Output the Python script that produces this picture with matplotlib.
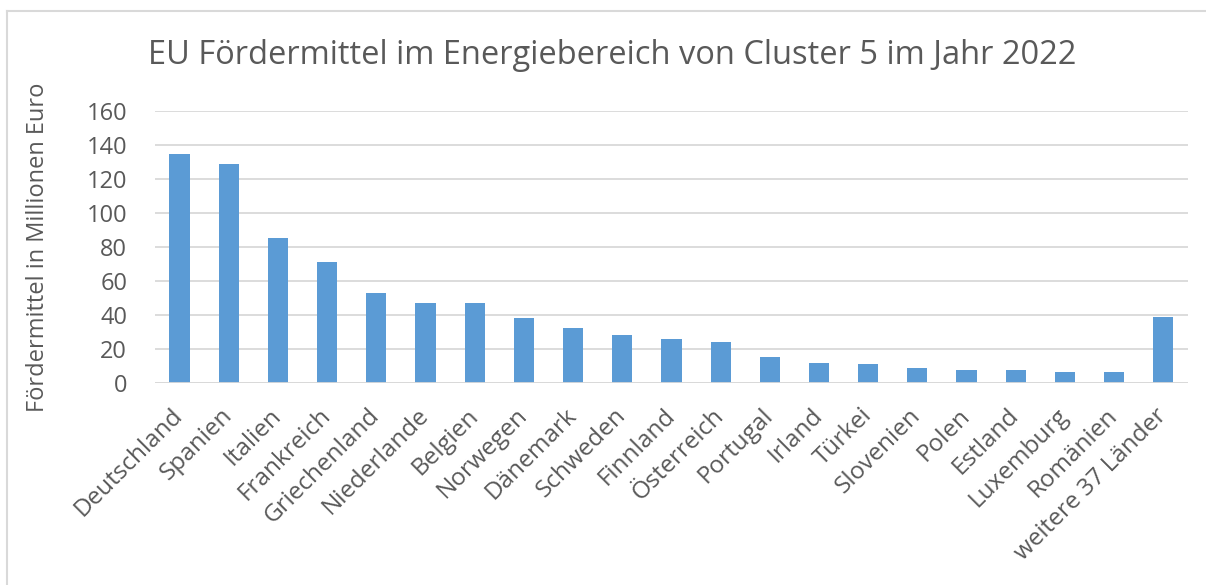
import numpy as np
import matplotlib.pyplot as plt
from matplotlib.lines import Line2D

plt.rcParams['font.family'] = ['Open Sans', 'DejaVu Sans']

laender = ['Deutschland', 'Spanien', 'Italien', 'Frankreich', 'Griechenland',
           'Niederlande', 'Belgien', 'Norwegen', 'Dänemark', 'Schweden',
           'Finnland', 'Österreich', 'Portugal', 'Irland', 'Türkei',
           'Slovenien', 'Polen', 'Estland', 'Luxemburg', 'Romänien',
           'weitere 37 Länder']
mittel = [134.5, 128.8, 85.5, 71.4, 52.7, 47.0, 46.9, 38.2, 32.3, 28.0,
          25.6, 24.4, 15.4, 11.7, 11.3, 8.8, 7.6, 7.4, 6.6, 6.4, 38.6]
yticks = [0, 20, 40, 60, 80, 100, 120, 140, 160]

grau = '#595959'

fig = plt.figure(figsize=(12.06, 5.85), dpi=100)
ax = fig.add_axes([0.1285, 0.3453, 0.8565, 0.465])

x = np.arange(len(laender))
ax.bar(x, mittel, width=0.41, color='#5b9bd5', zorder=3)

ax.set_xlim(-0.5, len(laender) - 0.5)
ax.set_ylim(0, 160)
ax.set_yticks(yticks)
ax.yaxis.grid(True, color='#d9d9d9', linewidth=1.3, zorder=0)
for s in ax.spines.values():
    s.set_visible(False)
ax.axhline(0, color='#d9d9d9', linewidth=1.3, zorder=4)

ax.set_xticks(x)
ax.set_xticklabels(laender, rotation=45, ha='right', va='center',
                   rotation_mode='anchor')
ax.tick_params(axis='x', length=0, labelsize=17.5, labelcolor=grau, pad=21)
ax.tick_params(axis='y', length=0, labelsize=17, labelcolor=grau, pad=20)

ax.set_ylabel('Fördermittel in Millionen Euro', fontsize=17, color=grau, labelpad=26)
fig.text(0.508, 0.905, 'EU Fördermittel im Energiebereich von Cluster 5 im Jahr 2022',
         ha='center', va='center', fontsize=23.5, color=grau)

# rahmen oben und links
fig.add_artist(Line2D([7 / 1206, 1], [1 - 11 / 585, 1 - 11 / 585],
                      transform=fig.transFigure, color='#d9d9d9', linewidth=1.5))
fig.add_artist(Line2D([7 / 1206, 7 / 1206], [0, 1 - 11 / 585],
                      transform=fig.transFigure, color='#d9d9d9', linewidth=1.5))

fig.savefig('out.png', dpi=100)
